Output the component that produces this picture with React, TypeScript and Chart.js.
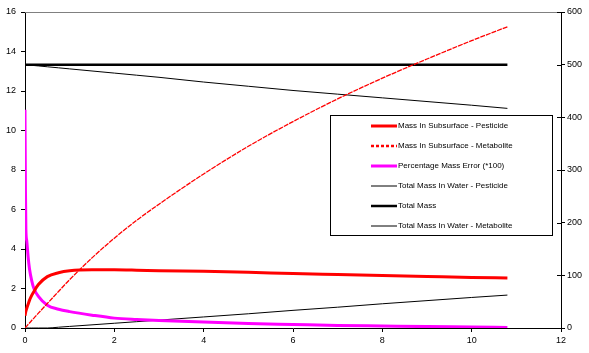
import React, { useEffect, useRef } from "react";
import { Chart, registerables } from "chart.js";

Chart.register(...registerables);

const times = [0, 0.01, 0.02, 0.04, 0.07, 0.1, 0.15, 0.2, 0.3, 0.5, 0.75, 1, 1.5, 2, 2.5, 3, 4, 5, 6, 7, 8, 9, 10, 10.8];

const subsurfacePesticide = [0.62, 0.75, 0.85, 1.0, 1.2, 1.4, 1.65, 1.85, 2.2, 2.6, 2.8, 2.9, 2.95, 2.95, 2.93, 2.9, 2.87, 2.82, 2.76, 2.71, 2.66, 2.61, 2.56, 2.53];
const subsurfaceMetabolite = [0, 0.03, 0.05, 0.1, 0.18, 0.25, 0.38, 0.5, 0.75, 1.24, 1.85, 2.45, 3.55, 4.55, 5.45, 6.27, 7.8, 9.2, 10.45, 11.6, 12.65, 13.62, 14.55, 15.25];
const massError = [11.05, 7.0, 5.0, 4.4, 3.6, 3.0, 2.4, 2.0, 1.6, 1.15, 0.95, 0.83, 0.65, 0.5, 0.43, 0.38, 0.3, 0.23, 0.18, 0.13, 0.1, 0.07, 0.05, 0.03];
const waterPesticide = [500, 500, 500, 499.7, 499.4, 499.2, 498.8, 498.4, 497.6, 496, 494, 492, 488, 484, 480, 476, 467, 459, 451, 444, 437, 430, 423, 417];
const totalMass = [500, 500, 500, 500, 500, 500, 500, 500, 500, 500, 500, 500, 500, 500, 500, 500, 500, 500, 500, 500, 500, 500, 500, 500];
const waterMetabolite = [0, 0, 0, 0, 0, 0, 0, 0, 0, 0, 1.5, 3, 6, 9, 12, 15, 21, 27, 33.5, 39.5, 46, 52, 58, 62.5];

const seriesLabels = [
  "Mass In Subsurface - Pesticide",
  "Mass In Subsurface - Metabolite",
  "Percentage Mass Error (*100)",
  "Total Mass In Water - Pesticide",
  "Total Mass",
  "Total Mass In Water - Metabolite",
];

const FONT = "'Liberation Sans', Arial, sans-serif";

const pts = (vals: number[]) => times.map((t, i) => ({ x: t, y: vals[i] }));

const extrasPlugin = {
  id: "extras",
  afterDraw(chart: any) {
    const ctx = chart.ctx;
    const area = chart.chartArea;
    ctx.save();
    ctx.strokeStyle = "#808080";
    ctx.lineWidth = 1;
    ctx.beginPath();
    ctx.moveTo(area.left, area.top + 0.5);
    ctx.lineTo(area.right, area.top + 0.5);
    ctx.stroke();
    const y1 = chart.scales.y1;
    ctx.strokeStyle = "#000";
    y1.ticks.forEach((t: any) => {
      const py = Math.round(y1.getPixelForValue(t.value)) + 0.5;
      ctx.beginPath();
      ctx.moveTo(area.right - 4, py);
      ctx.lineTo(area.right, py);
      ctx.stroke();
    });
    const bx = 330, by = 115, bw = 222, bh = 120;
    ctx.fillStyle = "#fff";
    ctx.fillRect(bx, by, bw, bh);
    ctx.strokeStyle = "#000";
    ctx.lineWidth = 1;
    ctx.strokeRect(bx + 0.5, by + 0.5, bw, bh);
    ctx.font = `8px ${FONT}`;
    ctx.textBaseline = "middle";
    chart.data.datasets.forEach((ds: any, i: number) => {
      const cy = by + 11 + i * 20;
      ctx.strokeStyle = ds.borderColor;
      ctx.lineWidth = ds.legendWidth || ds.borderWidth;
      ctx.setLineDash(ds.legendDash || []);
      ctx.beginPath();
      ctx.moveTo(371, cy);
      ctx.lineTo(397, cy);
      ctx.stroke();
      ctx.setLineDash([]);
      ctx.fillStyle = "#000";
      ctx.fillText(ds.label, 398, cy);
    });
    ctx.restore();
  },
};

export default function App() {
  const ref = useRef<HTMLCanvasElement | null>(null);
  useEffect(() => {
    if (!ref.current) return;
    const mk = (i: number, vals: number[], color: string, width: number, axis: string, extra: any = {}) => ({
      label: seriesLabels[i],
      data: pts(vals),
      borderColor: color,
      backgroundColor: color,
      borderWidth: width,
      pointRadius: 0,
      cubicInterpolationMode: "monotone",
      fill: false,
      yAxisID: axis,
      ...extra,
    });
    const chart = new Chart(ref.current, {
      type: "line",
      data: {
        datasets: [
          mk(0, subsurfacePesticide, "#ff0000", 3, "y"),
          mk(1, subsurfaceMetabolite, "#ff0000", 1.3, "y", { borderDash: [5, 1], legendDash: [3, 2], legendWidth: 2.5 }),
          mk(2, massError, "#ff00ff", 3, "y"),
          mk(3, waterPesticide, "#000000", 1, "y1"),
          mk(4, totalMass, "#000000", 2.5, "y1"),
          mk(5, waterMetabolite, "#000000", 1, "y1"),
        ] as any,
      },
      options: {
        responsive: false,
        animation: false,
        layout: { padding: { top: 12, left: 0, right: 0, bottom: 0 } },
        plugins: { legend: { display: false }, tooltip: { enabled: false } },
        scales: {
          x: {
            type: "linear",
            min: 0,
            max: 12,
            ticks: { stepSize: 2, color: "#000", font: { family: FONT, size: 9 }, padding: 3 },
            grid: { drawOnChartArea: false, drawTicks: true, tickLength: 4, color: "#000" },
            border: { display: true, color: "#000", width: 1 },
            afterFit: (s: any) => { s.height = 25; },
          },
          y: {
            position: "left",
            min: 0,
            max: 16,
            ticks: { stepSize: 2, color: "#000", font: { family: FONT, size: 9 }, padding: 5 },
            grid: { drawOnChartArea: false, drawTicks: true, tickLength: 4, color: "#000" },
            border: { display: true, color: "#000", width: 1 },
            afterFit: (s: any) => { s.width = 25; },
          },
          y1: {
            position: "right",
            min: 0,
            max: 600,
            ticks: { stepSize: 100, color: "#000", font: { family: FONT, size: 9 }, padding: 2 },
            grid: { drawOnChartArea: false, drawTicks: true, tickLength: 4, color: "#000" },
            border: { display: true, color: "#000", width: 1 },
            afterFit: (s: any) => { s.width = 28; },
          },
        },
      } as any,
      plugins: [extrasPlugin],
    });
    return () => chart.destroy();
  }, []);
  return (
    <div style={{ position: "fixed", left: 0, top: 0, width: 589, height: 353, background: "#fff" }}>
      <canvas ref={ref} width={589} height={353} style={{ width: 589, height: 353, display: "block" }} />
    </div>
  );
}
